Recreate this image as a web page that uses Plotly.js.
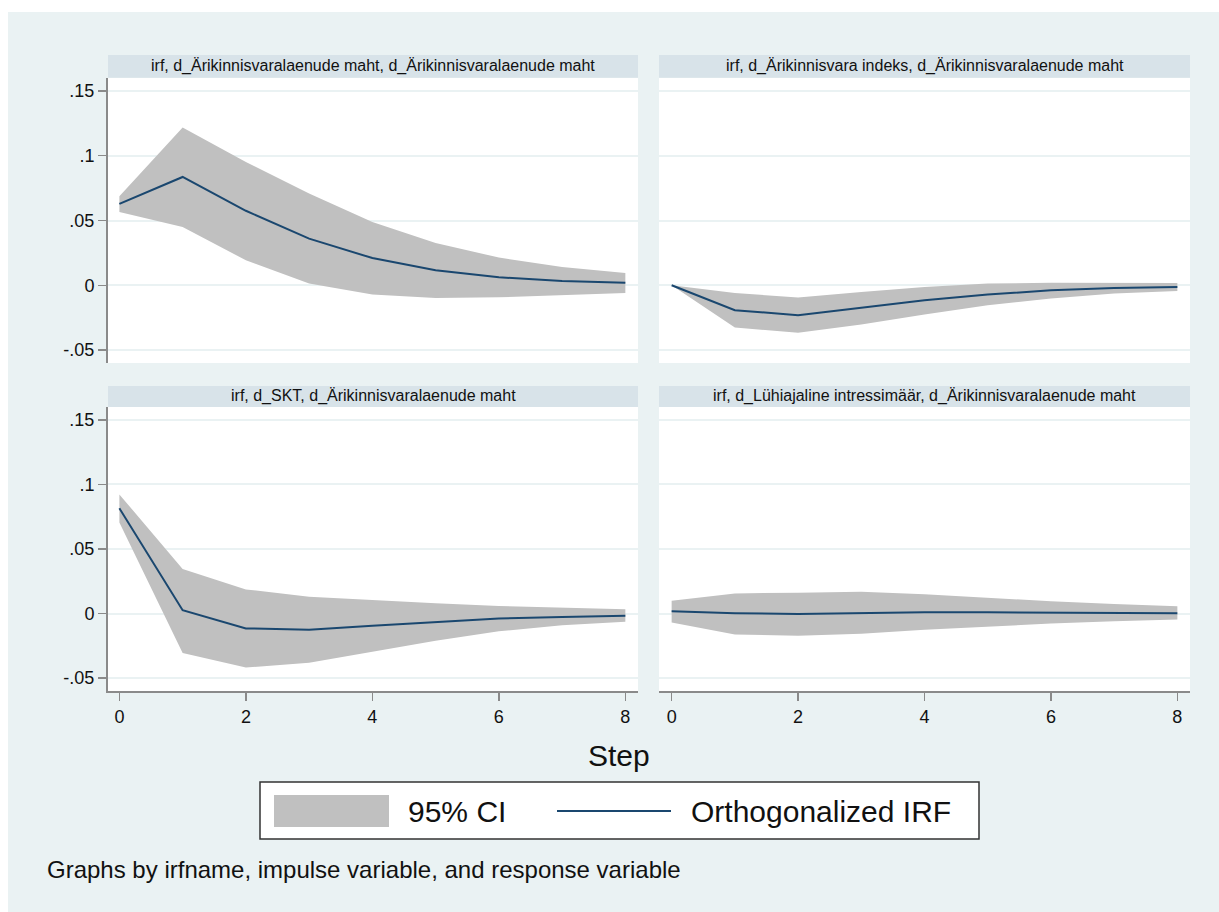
<!DOCTYPE html>
<html>
<head>
<meta charset="utf-8">
<script src="https://cdn.plot.ly/plotly-3.0.1.min.js"></script>
<style>
  html, body { margin: 0; padding: 0; background: #ffffff; width: 1219px; height: 912px; overflow: hidden; }
  #chart { position: absolute; left: 8px; top: 12px; width: 1211px; height: 900px; }
</style>
</head>
<body>
<div id="chart"></div>
<script>
// ---- data ----
const steps = [0, 1, 2, 3, 4, 5, 6, 7, 8];

const panelTitles = [
  "irf, d_Ärikinnisvaralaenude maht, d_Ärikinnisvaralaenude maht",
  "irf, d_Ärikinnisvara indeks, d_Ärikinnisvaralaenude maht",
  "irf, d_SKT, d_Ärikinnisvaralaenude maht",
  "irf, d_Lühiajaline intressimäär, d_Ärikinnisvaralaenude maht"
];

// Panel 1: impulse d_Ärikinnisvaralaenude maht
const irf1 = [0.0628, 0.0836, 0.0575, 0.0360, 0.0210, 0.0116, 0.0062, 0.0033, 0.0020];
const lo1  = [0.0566, 0.0450, 0.0193, 0.0013, -0.0072, -0.0098, -0.0093, -0.0077, -0.0059];
const hi1  = [0.0687, 0.1217, 0.0952, 0.0708, 0.0489, 0.0327, 0.0214, 0.0142, 0.0095];

// Panel 2: impulse d_Ärikinnisvara indeks
const irf2 = [0.0000, -0.0192, -0.0231, -0.0172, -0.0115, -0.0072, -0.0038, -0.0021, -0.0013];
const lo2  = [0.0000, -0.0326, -0.0367, -0.0303, -0.0226, -0.0154, -0.0103, -0.0064, -0.0044];
const hi2  = [0.0000, -0.0059, -0.0095, -0.0051, -0.0013, 0.0013, 0.0020, 0.0020, 0.0018];

// Panel 3: impulse d_SKT
const irf3 = [0.0815, 0.0026, -0.0115, -0.0126, -0.0095, -0.0064, -0.0038, -0.0026, -0.0018];
const lo3  = [0.0705, -0.0305, -0.0418, -0.0382, -0.0295, -0.0210, -0.0138, -0.0090, -0.0064];
const hi3  = [0.0923, 0.0346, 0.0187, 0.0131, 0.0105, 0.0079, 0.0059, 0.0044, 0.0033];

// Panel 4: impulse d_Lühiajaline intressimäär
const irf4 = [0.0018, 0.0003, -0.0003, 0.0005, 0.0010, 0.0010, 0.0008, 0.0005, 0.0003];
const lo4  = [-0.0069, -0.0162, -0.0172, -0.0156, -0.0126, -0.0100, -0.0077, -0.0059, -0.0046];
const hi4  = [0.0100, 0.0156, 0.0162, 0.0169, 0.0149, 0.0120, 0.0095, 0.0074, 0.0056];

const yTickVals = [-0.05, 0, 0.05, 0.1, 0.15];
const yTickText = ["-.05", "0", ".05", ".1", ".15"];
const xTickVals = [0, 2, 4, 6, 8];
const xTickText = ["0", "2", "4", "6", "8"];

const legendLabels = ["95% CI", "Orthogonalized IRF"];
const xTitle = "Step";
const noteText = "Graphs by irfname, impulse variable, and response variable";

// ---- styling ----
const BG = "#EAF2F3";
const STRIP = "#D8E3E9";
const CI_FILL = "#C0C0C0";
const NAVY = "#1A476F";
const AXIS = "#8A8A8A";
const FONT = "Liberation Sans, Arial, sans-serif";

const W = 1211, H = 900;
const px = v => v / W;
const py = v => 1 - v / H;

const colDom = [[px(100), px(630)], [px(651), px(1182)]];
const rowDom = [[py(351), py(66)], [py(679), py(395)]]; // top, bottom
const xRanges = [[-0.18, 8.2], [-0.2, 8.2]];
const yRange = [-0.06, 0.16];

const series = [
  {irf: irf1, lo: lo1, hi: hi1},
  {irf: irf2, lo: lo2, hi: hi2},
  {irf: irf3, lo: lo3, hi: hi3},
  {irf: irf4, lo: lo4, hi: hi4}
];

const traces = [];
const layout = {
  width: W, height: H,
  margin: {l: 0, r: 0, t: 0, b: 0, pad: 0},
  paper_bgcolor: BG,
  plot_bgcolor: "#ffffff",
  showlegend: false,
  font: {family: FONT, color: "#111"},
  shapes: [],
  annotations: []
};

series.forEach((s, i) => {
  const n = i + 1;
  const xa = n === 1 ? "x" : "x" + n;
  const ya = n === 1 ? "y" : "y" + n;
  traces.push({x: steps, y: s.lo, xaxis: xa, yaxis: ya, mode: "lines",
    line: {width: 0, color: CI_FILL}, hoverinfo: "skip", name: legendLabels[0]});
  traces.push({x: steps, y: s.hi, xaxis: xa, yaxis: ya, mode: "lines",
    line: {width: 0, color: CI_FILL}, fill: "tonexty", fillcolor: CI_FILL, name: legendLabels[0]});
  traces.push({x: steps, y: s.irf, xaxis: xa, yaxis: ya, mode: "lines",
    line: {width: 2, color: NAVY}, name: legendLabels[1]});

  const col = i % 2, row = Math.floor(i / 2);
  const isBottom = row === 1, isLeft = col === 0;
  const xKey = n === 1 ? "xaxis" : "xaxis" + n;
  const yKey = n === 1 ? "yaxis" : "yaxis" + n;

  layout[xKey] = {
    domain: colDom[col], anchor: ya, range: xRanges[col],
    tickvals: xTickVals, ticktext: xTickText,
    showgrid: false, zeroline: false,
    showline: isBottom, linecolor: AXIS, linewidth: 2,
    ticks: isBottom ? "outside" : "", ticklen: 8, tickwidth: 1.5, tickcolor: AXIS,
    showticklabels: isBottom,
    tickfont: {size: 18, family: FONT, color: "#111"},
    fixedrange: true
  };
  layout[yKey] = {
    domain: rowDom[row], anchor: xa, range: yRange,
    tickvals: yTickVals, ticktext: yTickText,
    showgrid: true, gridcolor: BG, gridwidth: 2,
    zeroline: false,
    showline: isLeft, linecolor: AXIS, linewidth: 2,
    ticks: isLeft ? "outside" : "", ticklen: 8, tickwidth: 1.5, tickcolor: AXIS,
    showticklabels: isLeft,
    tickfont: {size: 18, family: FONT, color: "#111"},
    fixedrange: true
  };

  // strip header
  const stripY = row === 0 ? [py(65.7), py(43)] : [py(395), py(374)];
  layout.shapes.push({type: "rect", xref: "paper", yref: "paper",
    x0: colDom[col][0], x1: colDom[col][1], y0: stripY[0], y1: stripY[1],
    fillcolor: STRIP, line: {width: 0}, layer: "below"});
  layout.annotations.push({xref: "paper", yref: "paper",
    x: (colDom[col][0] + colDom[col][1]) / 2, y: (stripY[0] + stripY[1]) / 2,
    xanchor: "center", yanchor: "middle", showarrow: false,
    text: panelTitles[i], font: {size: 16, family: FONT, color: "#111"}});
});

// x-axis title
layout.annotations.push({xref: "paper", yref: "paper", x: px(611), y: py(743),
  xanchor: "center", yanchor: "middle", showarrow: false, text: xTitle,
  font: {size: 30, family: FONT, color: "#111"}});

// legend box
layout.shapes.push({type: "rect", xref: "paper", yref: "paper",
  x0: px(252), x1: px(971), y0: py(827), y1: py(770),
  fillcolor: "#ffffff", line: {color: "#333333", width: 1.5}});
layout.shapes.push({type: "rect", xref: "paper", yref: "paper",
  x0: px(266), x1: px(381), y0: py(815), y1: py(783),
  fillcolor: CI_FILL, line: {width: 0}});
layout.shapes.push({type: "line", xref: "paper", yref: "paper",
  x0: px(549), x1: px(663), y0: py(799), y1: py(799),
  line: {color: NAVY, width: 2}});
layout.annotations.push({xref: "paper", yref: "paper", x: px(398), y: py(799),
  xanchor: "left", yanchor: "middle", showarrow: false, text: legendLabels[0],
  font: {size: 30, family: FONT, color: "#111"}});
layout.annotations.push({xref: "paper", yref: "paper", x: px(681), y: py(799),
  xanchor: "left", yanchor: "middle", showarrow: false, text: legendLabels[1],
  font: {size: 30, family: FONT, color: "#111"}});

// note
layout.annotations.push({xref: "paper", yref: "paper", x: px(37), y: py(857),
  xanchor: "left", yanchor: "middle", showarrow: false, text: noteText,
  font: {size: 24, family: FONT, color: "#111"}});

Plotly.newPlot("chart", traces, layout, {displayModeBar: false, staticPlot: true});
</script>
</body>
</html>
